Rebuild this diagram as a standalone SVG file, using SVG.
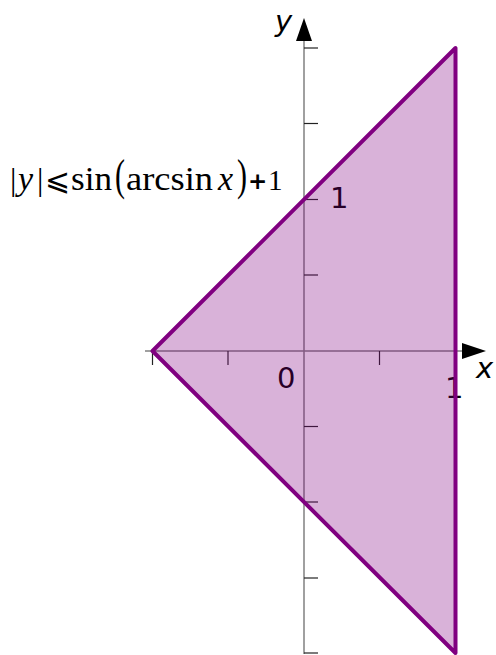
<svg xmlns="http://www.w3.org/2000/svg" width="496" height="655" viewBox="0 0 496 655">
<style>
.axis{stroke:#808080;stroke-width:1.5;fill:none}
.tick{stroke:#222;stroke-width:1.2}
.lbl{font-family:"DejaVu Sans","Liberation Sans",sans-serif;font-size:29px;fill:#000}
.ital{font-style:italic}
.math{font-family:"Liberation Serif","DejaVu Serif",serif;font-size:34px;fill:#000}
.paren{font-family:"Liberation Serif","DejaVu Serif",serif;font-size:30px;fill:#000}
.region{fill:#800080;fill-opacity:0.3;stroke:#800080;stroke-width:4;stroke-linejoin:round}
</style>
<rect width="496" height="655" fill="#fff"/>
<g id="axes">
<line class="axis" x1="304" y1="654" x2="304" y2="38"/>
<line class="axis" x1="145" y1="351" x2="464" y2="351"/>
<polygon points="304,18 296,41 312,41" fill="#000"/>
<polygon points="486,351 462,343 462,359" fill="#000"/>
<g id="yticks">
<line class="tick" x1="304" y1="48" x2="318" y2="48"/>
<line class="tick" x1="304" y1="123.5" x2="318" y2="123.5"/>
<line class="tick" x1="304" y1="199.5" x2="318" y2="199.5"/>
<line class="tick" x1="304" y1="275" x2="318" y2="275"/>
<line class="tick" x1="304" y1="426.5" x2="318" y2="426.5"/>
<line class="tick" x1="304" y1="502" x2="318" y2="502"/>
<line class="tick" x1="304" y1="578" x2="318" y2="578"/>
<line class="tick" x1="304" y1="653" x2="318" y2="653"/>
</g>
<g id="xticks">
<line class="tick" x1="152.5" y1="351" x2="152.5" y2="365"/>
<line class="tick" x1="228" y1="351" x2="228" y2="365"/>
<line class="tick" x1="379.5" y1="351" x2="379.5" y2="365"/>
<line class="tick" x1="455.5" y1="351" x2="455.5" y2="365"/>
</g>
</g>
<g id="labels">
<text class="lbl ital" x="275" y="31">y</text>
<text class="lbl ital" x="476" y="378">x</text>
<text class="lbl" x="277" y="388">0</text>
<text class="lbl" x="330" y="208">1</text>
<text class="lbl" x="445" y="398">1</text>
</g>
<g id="region">
<polygon class="region" points="152.5,351 455.5,48 455.5,653"/>
</g>
<g id="formula">
<text class="math" y="190"><tspan x="10" font-size="32">|</tspan><tspan x="18" font-style="italic">y</tspan><tspan x="37" font-size="32">|</tspan><tspan x="45" font-family="DejaVu Serif, DejaVu Sans, serif" font-size="30">⩽</tspan><tspan x="71" textLength="41" lengthAdjust="spacingAndGlyphs">sin</tspan></text>
<text class="paren" transform="translate(115,178.5) scale(1,1.45)" x="0" y="7.7">(</text>
<text class="math" y="190"><tspan x="126" textLength="87" lengthAdjust="spacingAndGlyphs">arcsin</tspan><tspan x="218" font-style="italic">x</tspan></text>
<text class="paren" transform="translate(237,178.5) scale(1,1.45)" x="0" y="7.7">)</text>
<text class="math" y="190"><tspan x="248" y="188.5" font-family="DejaVu Sans, sans-serif" font-size="23" font-weight="bold">+</tspan><tspan x="268" y="190" font-size="29">1</tspan></text>
</g>
</svg>
